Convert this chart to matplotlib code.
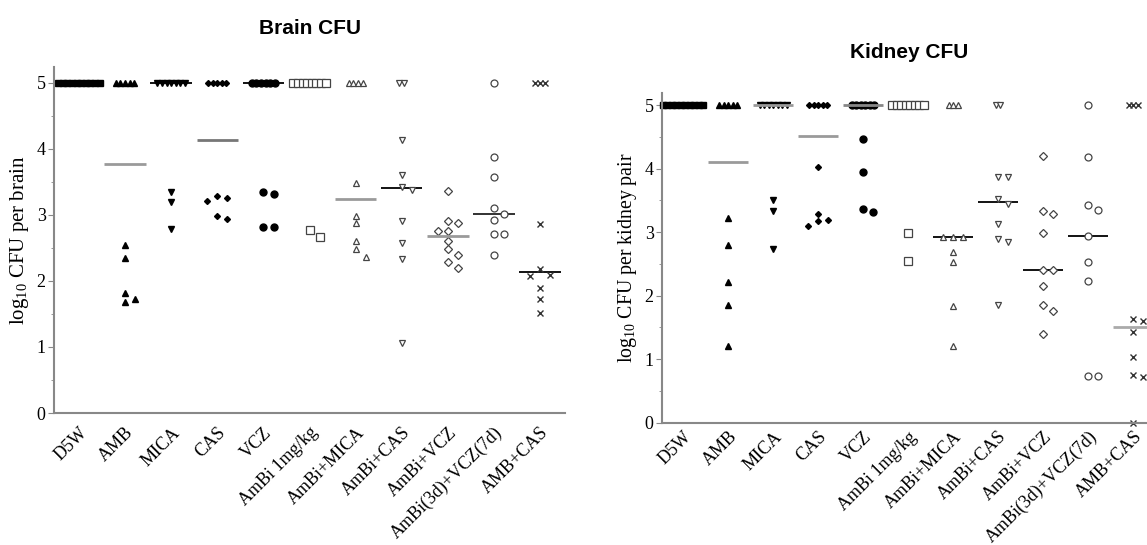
import numpy as np
import matplotlib
matplotlib.use("Agg")
import matplotlib.pyplot as plt

plt.rcParams['font.family'] = ['Liberation Serif', 'DejaVu Serif']
plt.rcParams['mathtext.fontset'] = 'custom'
plt.rcParams['mathtext.rm'] = 'Liberation Serif'
plt.rcParams['mathtext.it'] = 'Liberation Serif'

groups = ['D5W', 'AMB', 'MICA', 'CAS', 'VCZ', 'AmBi 1mg/kg', 'AmBi+MICA',
          'AmBi+CAS', 'AmBi+VCZ', 'AmBi(3d)+VCZ(7d)', 'AMB+CAS']

# log10 CFU per brain (5 = upper limit of counting)
brain_d5w = [5, 5, 5, 5, 5, 5, 5, 5, 5, 5]
brain_amb = [5, 5, 5, 5, 5, 2.55, 2.35, 1.82, 1.68, 1.73]
brain_mica = [5, 5, 5, 5, 5, 5, 5, 3.34, 3.19, 2.79]
brain_cas = [5, 5, 5, 5, 5, 3.26, 3.21, 3.28, 2.94, 2.99]
brain_vcz = [5, 5, 5, 5, 5, 5, 3.34, 3.32, 2.81, 2.81]
brain_ambi1 = [5, 5, 5, 5, 5, 5, 5, 5, 2.66, 2.77]
brain_ambi_mica = [5, 5, 5, 5, 3.48, 2.99, 2.87, 2.61, 2.48, 2.37]
brain_ambi_cas = [5, 5, 4.14, 3.60, 3.43, 3.38, 2.91, 2.58, 2.33, 1.06]
brain_ambi_vcz = [3.36, 2.91, 2.87, 2.76, 2.76, 2.61, 2.48, 2.40, 2.29, 2.20]
brain_ambi3_vcz7 = [5, 3.87, 3.57, 3.11, 3.02, 2.92, 2.71, 2.71, 2.39]
brain_amb_cas = [5, 5, 5, 2.86, 2.18, 2.09, 2.08, 1.90, 1.73, 1.51]

# log10 CFU per kidney pair
kidney_d5w = [5, 5, 5, 5, 5, 5, 5, 5, 5, 5]
kidney_amb = [5, 5, 5, 5, 5, 3.22, 2.79, 2.21, 1.85, 1.20]
kidney_mica = [5, 5, 5, 5, 5, 5, 5, 3.50, 3.34, 2.74]
kidney_cas = [5, 5, 5, 5, 5, 4.03, 3.29, 3.19, 3.09, 3.17]
kidney_vcz = [5, 5, 5, 5, 5, 5, 4.47, 3.94, 3.32, 3.37]
kidney_ambi1 = [5, 5, 5, 5, 5, 5, 5, 5, 2.99, 2.55]
kidney_ambi_mica = [5, 5, 5, 2.93, 2.93, 2.93, 2.69, 2.53, 1.84, 1.21]
kidney_ambi_cas = [5, 5, 3.87, 3.87, 3.52, 3.44, 3.12, 2.89, 2.84, 1.86]
kidney_ambi_vcz = [4.20, 3.33, 3.29, 2.99, 2.40, 2.40, 2.15, 1.85, 1.76, 1.39]
kidney_ambi3_vcz7 = [5, 4.19, 3.43, 3.35, 2.94, 2.53, 2.23, 0.74, 0.74]
kidney_amb_cas = [5, 5, 5, 1.64, 1.60, 1.42, 1.04, 0.75, 0.72, 0.0]

brain = [brain_d5w, brain_amb, brain_mica, brain_cas, brain_vcz, brain_ambi1,
         brain_ambi_mica, brain_ambi_cas, brain_ambi_vcz, brain_ambi3_vcz7, brain_amb_cas]
kidney = [kidney_d5w, kidney_amb, kidney_mica, kidney_cas, kidney_vcz, kidney_ambi1,
          kidney_ambi_mica, kidney_ambi_cas, kidney_ambi_vcz, kidney_ambi3_vcz7, kidney_amb_cas]

# marker style per group: (marker, filled, size)
styles = [('s', True, 4), ('^', True, 4.3), ('v', True, 4.3), ('D', True, 3),
          ('o', True, 5), ('s', False, 5.5), ('^', False, 4.6), ('v', False, 4.6),
          ('D', False, 4), ('o', False, 5), ('x', True, 5)]

brain_med_col = ['k', '#9a9a9a', 'k', '#777777', 'k', 'k', '#9a9a9a', 'k', '#9a9a9a', '#222222', 'k']
kidney_med_col = ['k', '#9a9a9a', '#9a9a9a', '#9a9a9a', '#888888', 'k', 'k', 'k', 'k', 'k', '#aaaaaa']


def spread(vals, top=5.0, row_step=0.1, step=0.22, ythr=0.12):
    # column scatter: points at the limit in a tight row, others nudged sideways
    vals = np.asarray(vals, float)
    xs = np.zeros(len(vals))
    at_top = np.where(vals >= top)[0]
    xs[at_top] = (np.arange(len(at_top)) - (len(at_top) - 1) / 2) * row_step
    placed = []
    for i in np.argsort(-vals, kind='stable'):
        if vals[i] >= top:
            continue
        for c in [0, step, -step, 2 * step, -2 * step]:
            if all(abs(vals[i] - v) >= ythr or abs(c - x) >= step * 0.9 for v, x in placed):
                break
        xs[i] = c
        placed.append((vals[i], c))
    return xs


def draw(ax, data, med_cols, ylabel, ylsize, ymax, pad):
    for i, vals in enumerate(data):
        vals = np.asarray(vals, float)
        med = np.median(vals)
        grey = med_cols[i] not in ('k', '#222222')
        ax.hlines(med, i - 0.45, i + 0.45, color=med_cols[i], lw=2.0 if grey else 1.3,
                  zorder=3 if grey else 1)
        m, filled, ms = styles[i]
        xs = i + spread(vals)
        if m == 'x':
            ax.plot(xs, vals, ls='none', marker='x', ms=ms, mew=1.0, color='#333333',
                    zorder=2, clip_on=False)
        elif filled:
            ax.plot(xs, vals, ls='none', marker=m, ms=ms, color='black', mec='black',
                    zorder=2, clip_on=False)
        else:
            ax.plot(xs, vals, ls='none', marker=m, ms=ms, mfc='white', mec='#444444',
                    mew=0.9, zorder=2, clip_on=False)
    ax.set_ylim(0, ymax)
    ax.set_yticks(range(6))
    ax.set_yticks(np.arange(0.5, 5.0, 1.0), minor=True)
    ax.set_xticks(range(len(groups)))
    ax.set_xticklabels(groups, fontsize=13, rotation=45, ha='right', rotation_mode='anchor')
    ax.tick_params(axis='x', length=0, pad=pad)
    ax.tick_params(axis='y', which='major', length=4, color='#888888', labelsize=13, pad=2)
    ax.tick_params(axis='y', which='minor', length=2, color='#888888')
    for s in ['top', 'right']:
        ax.spines[s].set_visible(False)
    for s in ['left', 'bottom']:
        ax.spines[s].set_color('#888888')
        ax.spines[s].set_linewidth(1.5)
    ax.set_ylabel(ylabel, fontsize=ylsize, labelpad=4)


fig = plt.figure(figsize=(11.47, 5.45), dpi=100)
W, H = 1147, 545

ax1 = fig.add_axes([54 / W, 1 - 413 / H, 511 / W, 346 / H])
ax1.set_xlim(-0.54, 10.54)
draw(ax1, brain, brain_med_col, 'log$_{10}$ CFU per brain', 15, 5.24, 8)
fig.text(310 / W, 1 - 29 / H, 'Brain CFU', family='Liberation Sans', fontweight='bold',
         fontsize=15, ha='center', va='center')

ax2 = fig.add_axes([662 / W, 1 - 422.7 / H, 495 / W, 329.7 / H])
ax2.set_xlim(-0.47, 10.53)
draw(ax2, kidney, kidney_med_col, 'log$_{10}$ CFU per kidney pair', 14.3, 5.19, 4)
fig.text(909 / W, 1 - 52 / H, 'Kidney CFU', family='Liberation Sans', fontweight='bold',
         fontsize=15, ha='center', va='center')

fig.savefig('out.png', dpi=100)
